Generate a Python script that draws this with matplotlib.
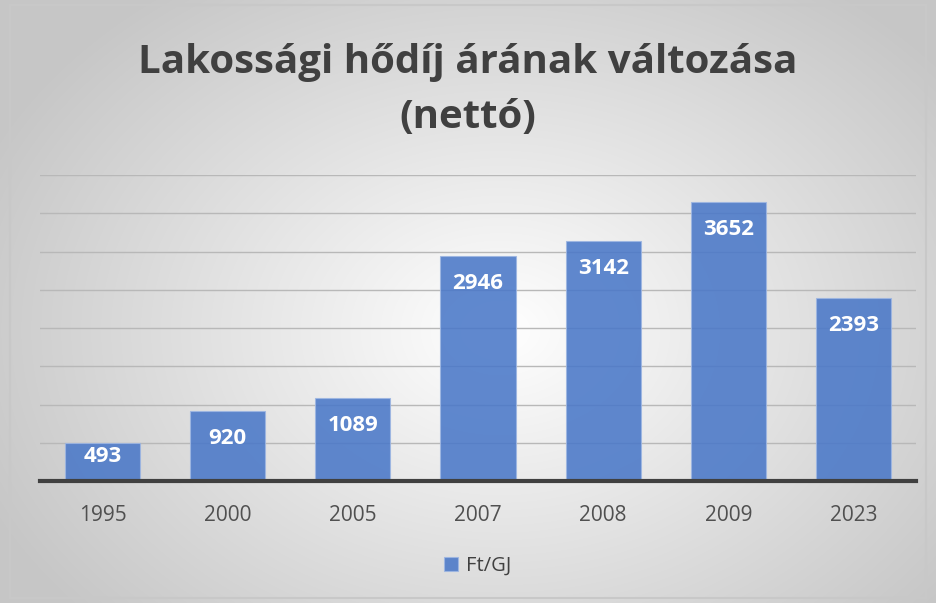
import numpy as np
import matplotlib.pyplot as plt

years = ['1995', '2000', '2005', '2007', '2008', '2009', '2023']
prices = [493, 920, 1089, 2946, 3142, 3652, 2393]
series_name = 'Ft/GJ'
title = 'Lakossági hődíj árának változása\n(nettó)'

plt.rcParams['font.family'] = ['Open Sans', 'DejaVu Sans']

fig = plt.figure(figsize=(9.36, 6.03), dpi=100)

# radial gradient background
bg = fig.add_axes([0, 0, 1, 1], zorder=-10)
yy, xx = np.mgrid[0:603, 0:936]
r = np.sqrt(((xx - 500) / 560.0) ** 2 + ((yy - 330) / 420.0) ** 2)
shade = np.clip(1.0 - 0.22 * r, 0.78, 1.0)
bg.imshow(np.dstack([shade] * 3), aspect='auto', extent=[0, 1, 0, 1])
bg.add_patch(plt.Rectangle((10 / 936, 5 / 603), 916 / 936, 593 / 603,
                           fill=False, ec='#c8c8c8', lw=1.5))
bg.set_xlim(0, 1)
bg.set_ylim(0, 1)
bg.axis('off')

ax = fig.add_axes([40 / 936, 122 / 603, 876 / 936, 306 / 603])
ax.patch.set_alpha(0)
x = np.arange(len(years))
bars = ax.bar(x, prices, width=0.6, color='#4a78c8', alpha=0.88,
              edgecolor='#9db6e2', linewidth=0.8, zorder=3)

# labels sit ~28 px under the bar top, but not lower than 24 px above the base
px = 4000 / 306.0
for b, v in zip(bars, prices):
    ypos = max(v - 28 * px, 24 * px)
    ax.text(b.get_x() + b.get_width() / 2, ypos, str(v),
            ha='center', va='center', color='white', fontsize=16,
            fontweight='bold', zorder=4)

ax.set_xlim(-0.5, len(years) - 0.5)
ax.set_ylim(0, 4000)
ax.set_yticks(np.arange(500, 4001, 500))
ax.yaxis.grid(True, color='#b8b8b8', lw=1)
ax.set_axisbelow(True)
ax.tick_params(axis='y', left=False, labelleft=False)
ax.tick_params(axis='x', length=0, pad=17, labelsize=15, labelcolor='#505050')
ax.set_xticks(x)
ax.set_xticklabels(years)
for s in ['top', 'right', 'left']:
    ax.spines[s].set_visible(False)
ax.spines['bottom'].set_color('#404040')
ax.spines['bottom'].set_linewidth(3)
ax.spines['bottom'].set_zorder(5)

fig.text(0.5, 1 - 90 / 603, title, ha='center', va='center', fontsize=29,
         fontweight='bold', color='#404040', linespacing=1.55)

leg = ax.legend([bars[0]], [series_name], loc='center',
                bbox_to_anchor=(0.5, (566 - 481) / -306.0), frameon=False,
                fontsize=14.5, handlelength=0.7, handleheight=0.7,
                handletextpad=0.4)
for t in leg.get_texts():
    t.set_color('#404040')

fig.savefig('out.png', dpi=100)
